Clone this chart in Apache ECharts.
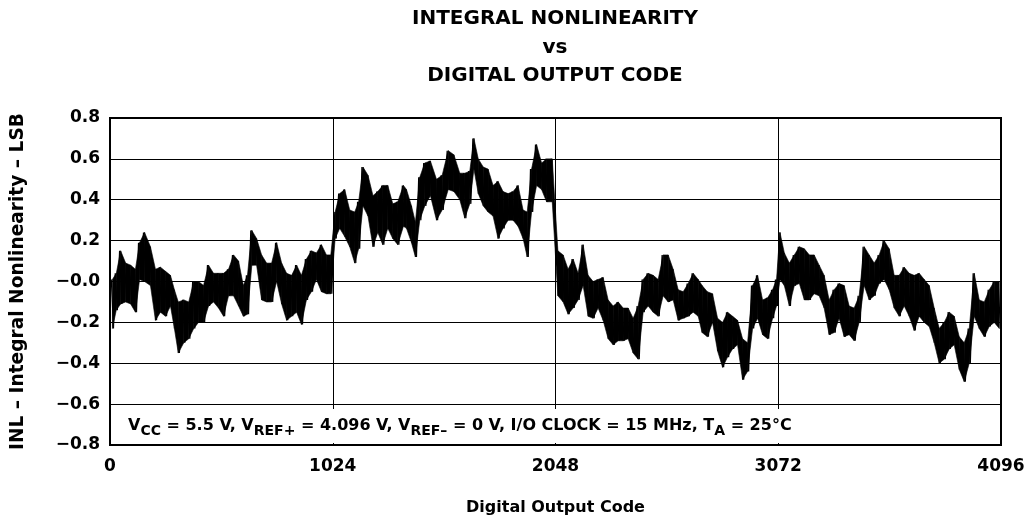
<!DOCTYPE html>
<html>
<head>
<meta charset="utf-8">
<script src="https://cdn.jsdelivr.net/npm/echarts@6/dist/echarts.min.js"></script>
<style>
html,body{margin:0;padding:0;background:#fff;}
#chart{width:1026px;height:519px;}
</style>
</head>
<body>
<div id="chart"></div>
<script>
// Digital output code at the centre of each read-off window
const codes = [
  11,29,49,72,95,117,136,159,186,209,
  232,255,278,296,314,339,362,385,407,430,
  453,476,499,522,545,568,591,613,632,652,
  674,697,720,743,766,789,812,835,858,880,
  903,926,949,972,995,1015,1035,1056,1079,1102,
  1125,1143,1163,1186,1209,1231,1254,1277,1300,1323,
  1349,1363,1386,1404,1424,1447,1473,1501,1527,1555,
  1581,1608,1631,1654,1673,1693,1716,1738,1761,1784,
  1807,1830,1853,1876,1899,1918,1938,1961,1984,2007,
  2033,2059,2083,2106,2129,2152,2175,2198,2221,2244,
  2267,2290,2313,2336,2359,2382,2405,2428,2451,2474,
  2497,2520,2543,2566,2589,2612,2635,2658,2681,2704,
  2722,2746,2770,2793,2816,2839,2862,2885,2908,2931,
  2954,2977,3000,3023,3046,3064,3080,3100,3123,3146,
  3169,3192,3215,3237,3260,3283,3306,3329,3352,3375,
  3398,3421,3444,3467,3490,3513,3536,3559,3582,3605,
  3628,3651,3674,3697,3720,3743,3766,3789,3812,3835,
  3858,3881,3904,3927,3950,3973,3996,4019,4042,4065,
  4088
];
// Upper edge of the INL trace (LSB) in each window
const inlHigh = [
  0.01,0.04,0.15,0.09,0.08,0.06,0.19,0.24,0.17,0.06,
  0.07,0.05,0.03,-0.04,-0.10,-0.09,-0.10,0.00,0.00,-0.02,
  0.08,0.04,0.04,0.04,0.06,0.13,0.10,-0.02,0.03,0.25,
  0.21,0.13,0.09,0.09,0.19,0.09,0.04,0.03,0.08,0.03,
  0.11,0.15,0.14,0.18,0.13,0.13,0.34,0.43,0.45,0.35,
  0.34,0.39,0.56,0.52,0.42,0.44,0.47,0.47,0.38,0.39,
  0.47,0.45,0.37,0.29,0.51,0.58,0.59,0.50,0.52,0.64,
  0.62,0.53,0.53,0.54,0.70,0.60,0.56,0.55,0.47,0.49,
  0.44,0.43,0.44,0.47,0.35,0.34,0.55,0.67,0.58,0.60,
  0.60,0.15,0.13,0.06,0.11,0.04,0.18,0.03,0.00,0.01,
  0.02,-0.09,-0.12,-0.10,-0.13,-0.13,-0.18,-0.12,0.01,0.04,
  0.03,0.01,0.13,0.13,0.06,-0.04,-0.05,-0.01,0.04,0.01,
  -0.02,-0.05,-0.06,-0.18,-0.20,-0.15,-0.17,-0.19,-0.28,-0.30,
  -0.02,0.03,-0.09,-0.08,-0.04,0.01,0.24,0.14,0.09,0.13,
  0.17,0.16,0.13,0.13,0.08,0.03,-0.09,-0.04,-0.01,-0.02,
  -0.12,-0.13,-0.07,0.17,0.13,0.09,0.13,0.20,0.16,0.03,
  0.03,0.07,0.04,0.03,0.04,0.01,-0.02,-0.13,-0.23,-0.20,
  -0.15,-0.17,-0.27,-0.30,-0.23,0.04,-0.09,-0.10,-0.04,0.00,
  0.00
];
// Lower edge of the INL trace (LSB) in each window
const inlLow = [
  -0.23,-0.14,-0.11,-0.10,-0.11,-0.15,0.01,0.00,-0.02,-0.19,
  -0.15,-0.17,-0.12,-0.23,-0.35,-0.30,-0.28,-0.23,-0.20,-0.20,
  -0.12,-0.10,-0.13,-0.17,-0.07,-0.07,-0.12,-0.17,-0.16,0.08,
  0.08,-0.09,-0.10,-0.10,0.00,-0.11,-0.19,-0.17,-0.15,-0.21,
  -0.09,-0.05,0.01,-0.05,-0.06,-0.06,0.21,0.26,0.22,0.17,
  0.09,0.16,0.37,0.32,0.17,0.24,0.18,0.26,0.21,0.18,
  0.27,0.26,0.19,0.12,0.30,0.37,0.42,0.30,0.35,0.45,
  0.44,0.40,0.31,0.38,0.55,0.43,0.37,0.34,0.32,0.21,
  0.26,0.30,0.30,0.27,0.21,0.12,0.34,0.47,0.45,0.39,
  0.39,-0.07,-0.10,-0.16,-0.13,-0.09,-0.02,-0.17,-0.18,-0.13,
  -0.19,-0.28,-0.31,-0.29,-0.29,-0.28,-0.35,-0.38,-0.15,-0.12,
  -0.15,-0.17,-0.07,-0.10,-0.09,-0.19,-0.18,-0.17,-0.15,-0.17,
  -0.25,-0.27,-0.20,-0.34,-0.42,-0.37,-0.33,-0.31,-0.48,-0.44,
  -0.23,-0.18,-0.26,-0.28,-0.18,-0.12,0.01,-0.02,-0.12,-0.02,
  -0.01,-0.09,-0.09,-0.06,-0.07,-0.13,-0.26,-0.25,-0.18,-0.27,
  -0.26,-0.29,-0.20,-0.02,-0.09,-0.07,-0.01,0.01,-0.04,-0.13,
  -0.17,-0.12,-0.17,-0.24,-0.17,-0.20,-0.22,-0.30,-0.40,-0.38,
  -0.33,-0.31,-0.43,-0.49,-0.40,-0.17,-0.23,-0.27,-0.22,-0.20,
  -0.23
];
const xTickLabels = ['0','1024','2048','3072','4096'];
const yTickLabels = ['\u22120.8','\u22120.6','\u22120.4','\u22120.2','\u22120.0','0.2','0.4','0.6','0.8'];
const titleLines = ['INTEGRAL NONLINEARITY','vs','DIGITAL OUTPUT CODE'];
const xName = 'Digital Output Code';
const yName = 'INL \u2013 Integral Nonlinearity \u2013 LSB';

const FONT = '"DejaVu Sans", Arial, Helvetica, sans-serif';

// zig-zag between the lower and upper edge of each window
const traceData = [];
const bandData = [];
for (let i = 0; i < codes.length; i++) {
  traceData.push([codes[i] - 5, inlHigh[i]]);
  traceData.push([codes[i] + 5, inlLow[i]]);
  bandData.push([codes[i], inlLow[i], inlHigh[i]]);
}

function renderBand(params, api) {
  const i = params.dataIndex;
  if (i >= codes.length - 1) return null;
  const a = api.coord([codes[i], inlHigh[i]]);
  const b = api.coord([codes[i + 1], inlHigh[i + 1]]);
  const c = api.coord([codes[i + 1], inlLow[i + 1]]);
  const d = api.coord([codes[i], inlLow[i]]);
  return {
    type: 'polygon',
    shape: {points: [a, b, c, d]},
    style: {fill: '#000', stroke: '#000', lineWidth: 0.6}
  };
}

const chart = echarts.init(document.getElementById('chart'), null, {renderer: 'canvas'});
chart.setOption({
  animation: false,
  backgroundColor: '#fff',
  grid: {left: 110, right: 25, top: 118, bottom: 74, containLabel: false, outerBoundsMode: 'none',
         show: true, borderColor: '#000', borderWidth: 2, backgroundColor: 'transparent'},
  xAxis: {
    type: 'value', min: 0, max: 4096, interval: 1024,
    name: xName, nameLocation: 'middle', nameGap: 55,
    nameTextStyle: {fontFamily: FONT, fontWeight: 'bold', fontSize: 16, color: '#000'},
    axisLine: {show: false}, axisTick: {show: false},
    splitLine: {show: true, lineStyle: {color: '#000', width: 1}},
    axisLabel: {
      margin: 13, fontFamily: FONT, fontWeight: 'bold', fontSize: 17, color: '#000',
      formatter: function (v) { return xTickLabels[Math.round(v / 1024)]; }
    }
  },
  yAxis: {
    type: 'value', min: -0.8, max: 0.8, interval: 0.2,
    name: yName, nameLocation: 'middle', nameGap: 82, nameRotate: 90,
    nameTextStyle: {fontFamily: FONT, fontWeight: 'bold', fontSize: 18.6, color: '#000'},
    axisLine: {show: false}, axisTick: {show: false},
    splitLine: {show: true, lineStyle: {color: '#000', width: 1}},
    axisLabel: {
      margin: 10, fontFamily: FONT, fontWeight: 'bold', fontSize: 17, color: '#000',
      formatter: function (v) { return yTickLabels[Math.round((v + 0.8) / 0.2)]; }
    }
  },
  graphic: [
    {type: 'text', x: 555, y: 5, z: 100,
     style: {text: titleLines.join('\n'), font: 'bold 20px ' + FONT, fill: '#000', textAlign: 'center', textVerticalAlign: 'top', lineHeight: 28.5}
    },
    {type: 'rect', z: 90, shape: {x: 112, y: 409, width: 690, height: 34}, style: {fill: '#fff'}},
    {type: 'text', z: 100, x: 128, y: 414,
     style: {
       text: '{n|V}{s|CC}{n| = 5.5 V, V}{s|REF+}{n| = 4.096 V, V}{s|REF\u2013}{n| = 0 V, I/O CLOCK = 15 MHz, T}{s|A}{n| = 25\u00b0C}',
       rich: {
         n: {fontFamily: FONT, fontWeight: 'bold', fontSize: 16, fill: '#000'},
         s: {fontFamily: FONT, fontWeight: 'bold', fontSize: 14, fill: '#000', padding: [10, 0, 0, 0]}
       }
     }
    }
  ],
  series: [
    {type: 'custom', data: bandData, renderItem: renderBand, encode: {x: 0, y: [1, 2]}, clip: true, z: 3, silent: true},
    {type: 'line', data: traceData, showSymbol: false, symbol: 'none',
     lineStyle: {color: '#000', width: 1.2}, z: 5, clip: true}
  ]
});
</script>
</body>
</html>
